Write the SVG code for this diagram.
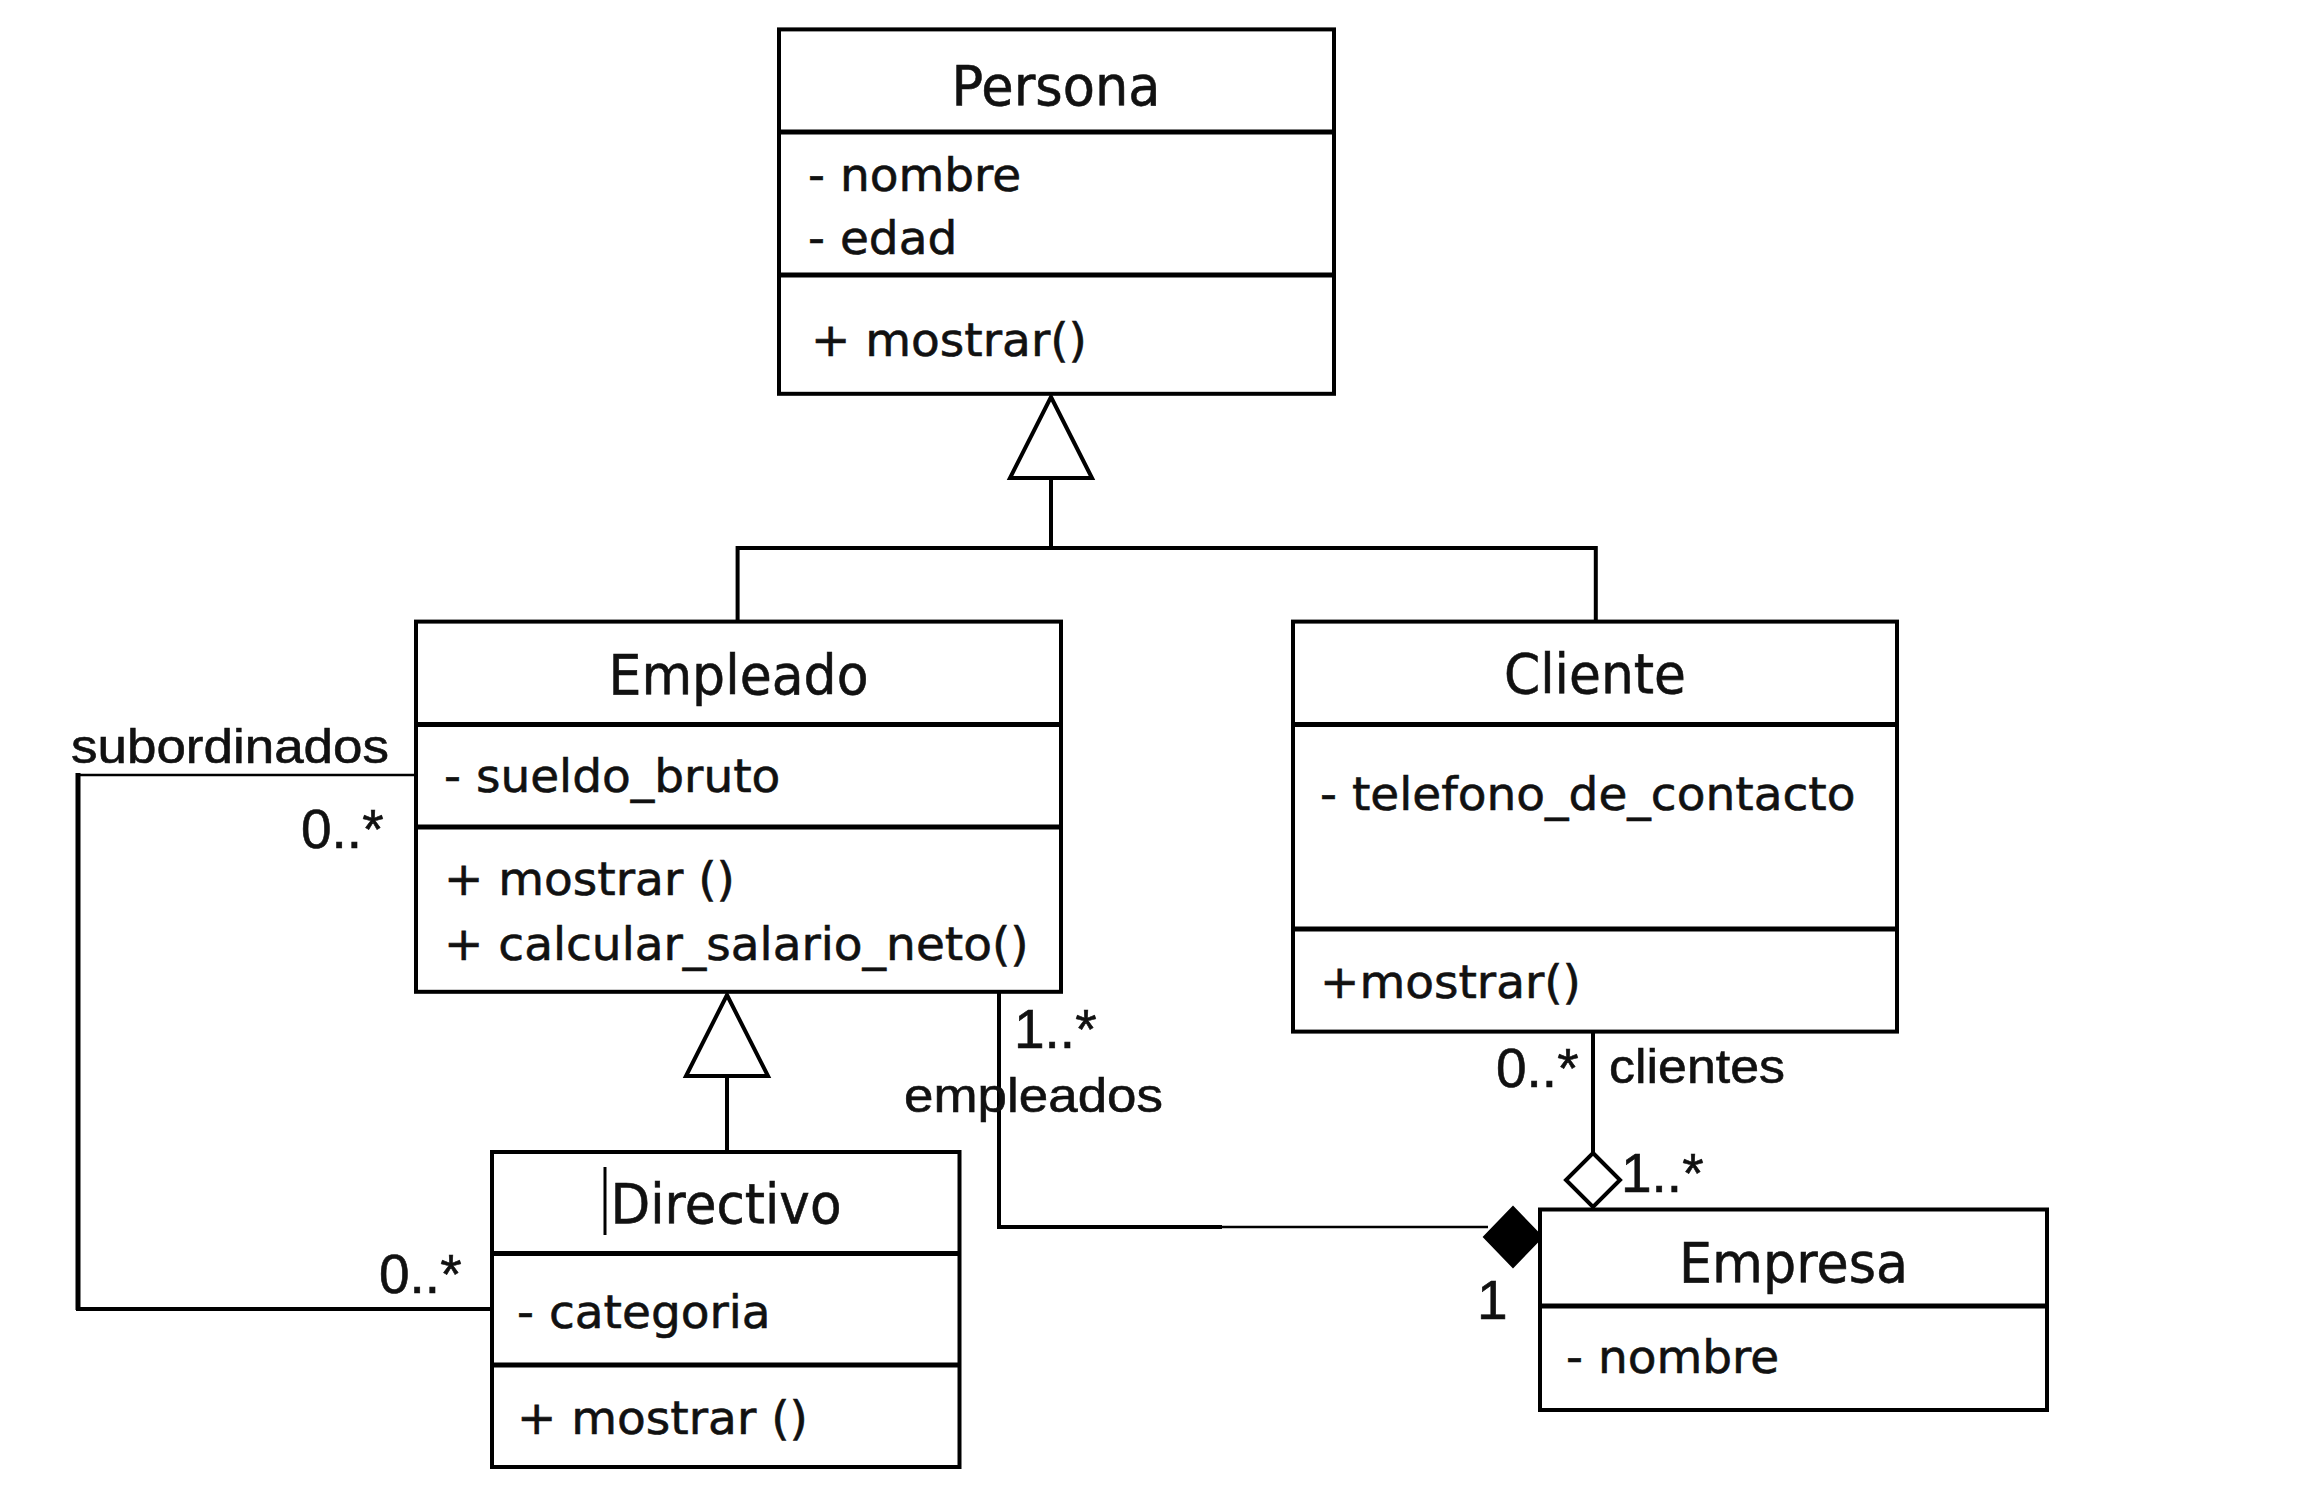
<svg xmlns="http://www.w3.org/2000/svg" xmlns:xlink="http://www.w3.org/1999/xlink" width="2304" height="1504" viewBox="0 0 2304 1504">
  <defs>
    <style>
      .box{fill:#fff;stroke:#000;stroke-width:4}
      .div{stroke:#000;stroke-width:5}
      text{stroke:#111;stroke-width:0.6}
      .title{font-family:"DejaVu Sans",Verdana,sans-serif;font-size:56px;text-anchor:middle;fill:#111}
      .member{font-family:"DejaVu Sans",Verdana,sans-serif;font-size:47px;fill:#111}
      .lbl{font-family:"Liberation Sans",Arial,sans-serif;font-size:49px;fill:#111}
      .mult{font-family:"Liberation Sans",Arial,sans-serif;font-size:55px;fill:#111}
      .conn{fill:none;stroke:#000;stroke-width:4}
      .thin{stroke-width:2.5}
      .thick{stroke-width:5}
      .hollow{fill:#fff;stroke:#000;stroke-width:4;stroke-linejoin:miter}
      .solid{fill:#000;stroke:#000;stroke-width:2}
    </style>
    <!-- generalization arrowhead: apex at origin, pointing up -->
    <path id="gen" d="M0,0 L41,81 L-41,81 Z" class="hollow"/>
  </defs>

  <rect width="2304" height="1504" fill="#fff"/>

  <!-- relationships -->
  <g id="connectors">
    <!-- Empleado / Cliente inherit from Persona -->
    <path class="conn" d="M1051,478 V548 M737.6,621.6 V548 H1595.8 V621.6"/>
    <use xlink:href="#gen" href="#gen" x="1051" y="397"/>
    <!-- Directivo inherits from Empleado -->
    <path class="conn" d="M727,1078 V1152"/>
    <use xlink:href="#gen" href="#gen" x="727" y="995"/>
    <!-- subordinados self-association -->
    <path class="conn thin" d="M416,775 H78"/>
    <path class="conn thick" d="M78,773 V1310"/>
    <path class="conn" d="M76,1309 H492"/>
    <!-- empleados composition -->
    <path class="conn" d="M999,992 V1227 H1222"/>
    <path class="conn thin" d="M1220,1227 H1488"/>
    <path class="solid" d="M1484,1237 L1513,1207 L1542,1237 L1513,1267 Z"/>
    <!-- clientes aggregation -->
    <path class="conn" d="M1593,1032 V1153"/>
    <path class="hollow" d="M1593,1153 L1620,1180 L1593,1207 L1566,1180 Z"/>

    <!-- role names and multiplicities -->
    <text class="lbl" x="71" y="763" textLength="318" lengthAdjust="spacingAndGlyphs">subordinados</text>
    <text class="mult" x="301" y="848">0..*</text>
    <text class="mult" x="379" y="1293">0..*</text>
    <text class="mult" x="1014" y="1048">1..*</text>
    <text class="lbl" x="904" y="1112" textLength="259" lengthAdjust="spacingAndGlyphs">empleados</text>
    <text class="mult" x="1477" y="1319">1</text>
    <text class="mult" x="1496" y="1087">0..*</text>
    <text class="lbl" x="1609" y="1083" textLength="176" lengthAdjust="spacingAndGlyphs">clientes</text>
    <text class="mult" x="1621" y="1192">1..*</text>
  </g>

  <g id="persona">
    <rect class="box" x="779" y="29.4" width="555" height="364.4"/>
    <line class="div" x1="779" y1="132" x2="1334" y2="132"/>
    <line class="div" x1="779" y1="275" x2="1334" y2="275"/>
    <text class="title" x="1056" y="105" textLength="209" lengthAdjust="spacingAndGlyphs">Persona</text>
    <text class="member" x="808" y="191">- nombre</text>
    <text class="member" x="808" y="254">- edad</text>
    <text class="member" x="811" y="356">+ mostrar()</text>
  </g>

  <g id="empleado">
    <rect class="box" x="416" y="621.6" width="645" height="370.2"/>
    <line class="div" x1="416" y1="724.4" x2="1061" y2="724.4"/>
    <line class="div" x1="416" y1="827" x2="1061" y2="827"/>
    <text class="title" x="738.5" y="694" textLength="260" lengthAdjust="spacingAndGlyphs">Empleado</text>
    <text class="member" x="444" y="792">- sueldo_bruto</text>
    <text class="member" x="444" y="895">+ mostrar ()</text>
    <text class="member" x="444" y="960">+ calcular_salario_neto()</text>
  </g>

  <g id="cliente">
    <rect class="box" x="1293" y="621.6" width="604" height="410"/>
    <line class="div" x1="1293" y1="724.4" x2="1897" y2="724.4"/>
    <line class="div" x1="1293" y1="929" x2="1897" y2="929"/>
    <text class="title" x="1595" y="693" textLength="182" lengthAdjust="spacingAndGlyphs">Cliente</text>
    <text class="member" x="1320" y="810">- telefono_de_contacto</text>
    <text class="member" x="1320" y="998">+mostrar()</text>
  </g>

  <g id="directivo">
    <rect class="box" x="492" y="1152" width="467.5" height="315"/>
    <line class="div" x1="492" y1="1253.4" x2="959.5" y2="1253.4"/>
    <line class="div" x1="492" y1="1365" x2="959.5" y2="1365"/>
    <!-- editing caret left in the name field -->
    <line x1="605" y1="1167" x2="605" y2="1235" stroke="#000" stroke-width="3"/>
    <text class="title" x="726" y="1223" textLength="231" lengthAdjust="spacingAndGlyphs">Directivo</text>
    <text class="member" x="517" y="1328">- categoria</text>
    <text class="member" x="517" y="1434">+ mostrar ()</text>
  </g>

  <g id="empresa">
    <rect class="box" x="1540" y="1209.5" width="507" height="200.5"/>
    <line class="div" x1="1540" y1="1306" x2="2047" y2="1306"/>
    <text class="title" x="1793.5" y="1282" textLength="229" lengthAdjust="spacingAndGlyphs">Empresa</text>
    <text class="member" x="1566" y="1373">- nombre</text>
  </g>
</svg>
